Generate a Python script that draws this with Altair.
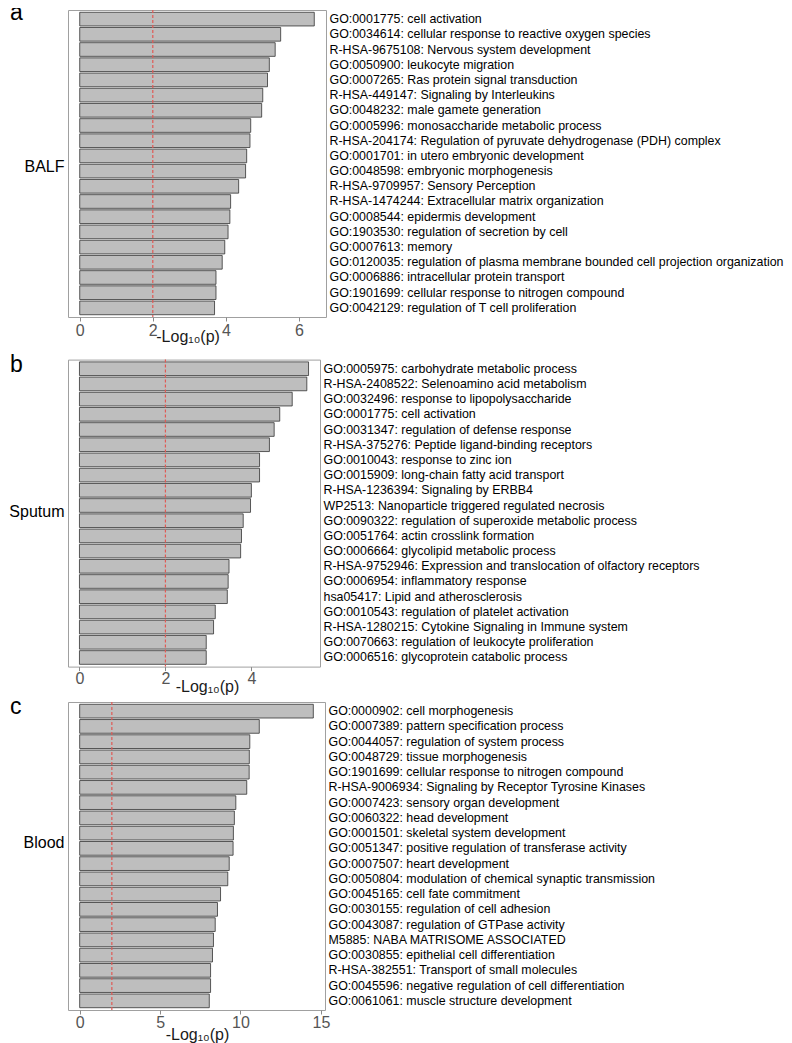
import altair as alt
import pandas as pd

# ---------------- data ----------------
balf_terms = [
    "GO:0001775: cell activation",
    "GO:0034614: cellular response to reactive oxygen species",
    "R-HSA-9675108: Nervous system development",
    "GO:0050900: leukocyte migration",
    "GO:0007265: Ras protein signal transduction",
    "R-HSA-449147: Signaling by Interleukins",
    "GO:0048232: male gamete generation",
    "GO:0005996: monosaccharide metabolic process",
    "R-HSA-204174: Regulation of pyruvate dehydrogenase (PDH) complex",
    "GO:0001701: in utero embryonic development",
    "GO:0048598: embryonic morphogenesis",
    "R-HSA-9709957: Sensory Perception",
    "R-HSA-1474244: Extracellular matrix organization",
    "GO:0008544: epidermis development",
    "GO:1903530: regulation of secretion by cell",
    "GO:0007613: memory",
    "GO:0120035: regulation of plasma membrane bounded cell projection organization",
    "GO:0006886: intracellular protein transport",
    "GO:1901699: cellular response to nitrogen compound",
    "GO:0042129: regulation of T cell proliferation",
]
balf_values = [6.42, 5.50, 5.35, 5.19, 5.14, 5.01, 4.98, 4.68, 4.66, 4.57,
               4.54, 4.35, 4.13, 4.11, 4.06, 3.97, 3.90, 3.73, 3.73, 3.69]

sputum_terms = [
    "GO:0005975: carbohydrate metabolic process",
    "R-HSA-2408522: Selenoamino acid metabolism",
    "GO:0032496: response to lipopolysaccharide",
    "GO:0001775: cell activation",
    "GO:0031347: regulation of defense response",
    "R-HSA-375276: Peptide ligand-binding receptors",
    "GO:0010043: response to zinc ion",
    "GO:0015909: long-chain fatty acid transport",
    "R-HSA-1236394: Signaling by ERBB4",
    "WP2513: Nanoparticle triggered regulated necrosis",
    "GO:0090322: regulation of superoxide metabolic process",
    "GO:0051764: actin crosslink formation",
    "GO:0006664: glycolipid metabolic process",
    "R-HSA-9752946: Expression and translocation of olfactory receptors",
    "GO:0006954: inflammatory response",
    "hsa05417: Lipid and atherosclerosis",
    "GO:0010543: regulation of platelet activation",
    "R-HSA-1280215: Cytokine Signaling in Immune system",
    "GO:0070663: regulation of leukocyte proliferation",
    "GO:0006516: glycoprotein catabolic process",
]
sputum_values = [5.33, 5.29, 4.95, 4.66, 4.53, 4.42, 4.19, 4.19, 4.00, 3.98,
                 3.81, 3.77, 3.75, 3.48, 3.46, 3.44, 3.16, 3.12, 2.95, 2.95]

blood_terms = [
    "GO:0000902: cell morphogenesis",
    "GO:0007389: pattern specification process",
    "GO:0044057: regulation of system process",
    "GO:0048729: tissue morphogenesis",
    "GO:1901699: cellular response to nitrogen compound",
    "R-HSA-9006934: Signaling by Receptor Tyrosine Kinases",
    "GO:0007423: sensory organ development",
    "GO:0060322: head development",
    "GO:0001501: skeletal system development",
    "GO:0051347: positive regulation of transferase activity",
    "GO:0007507: heart development",
    "GO:0050804: modulation of chemical synaptic transmission",
    "GO:0045165: cell fate commitment",
    "GO:0030155: regulation of cell adhesion",
    "GO:0043087: regulation of GTPase activity",
    "M5885: NABA MATRISOME ASSOCIATED",
    "GO:0030855: epithelial cell differentiation",
    "R-HSA-382551: Transport of small molecules",
    "GO:0045596: negative regulation of cell differentiation",
    "GO:0061061: muscle structure development",
]
blood_values = [14.53, 11.17, 10.58, 10.55, 10.54, 10.39, 9.71, 9.62, 9.56, 9.54,
                9.30, 9.21, 8.76, 8.57, 8.43, 8.32, 8.26, 8.14, 8.14, 8.06]

letters = ["a", "b", "c"]
sample_names = ["BALF", "Sputum", "Blood"]
x_ticks = [[0, 2, 4, 6], [0, 2, 4], [0, 5, 10, 15]]
threshold = 2

# ---------------- layout / style per panel ----------------
layout = [
    dict(width=258, height=307, title_x=119.6, title_y=24.7, label_pad=1.0, letter_y=10.0, name_y=156.5),
    dict(width=252, height=307, title_x=139.0, title_y=24.7, label_pad=-0.5, letter_y=12.4, name_y=152.0),
    dict(width=257, height=308, title_x=129.0, title_y=29.0, label_pad=0.5, letter_y=11.8, name_y=140.7),
]

FONT = "Liberation Sans"


def make_panel(letter, name, terms, values, ticks, lay):
    df = pd.DataFrame({"term": terms, "value": values})
    m = max(values)
    xscale = alt.Scale(domain=[-0.05 * m, 1.05 * m], nice=False, zero=False)
    bars = alt.Chart(df).mark_bar(
        fill="#BEBEBE", stroke="#333333", strokeWidth=0.8
    ).encode(
        x=alt.X(
            "value:Q",
            scale=xscale,
            axis=alt.Axis(
                values=ticks, title="-Log\u2081\u2080(p)", grid=False, domain=False,
                tickSize=4, tickColor="#8a8a8a", tickWidth=1,
                labelColor="#555555", labelFontSize=16, labelFont=FONT,
                labelPadding=lay["label_pad"],
                titleFont=FONT, titleFontSize=16, titleFontWeight="normal",
                titleColor="#1a1a1a", titleX=lay["title_x"], titleY=lay["title_y"],
                titleAlign="center", titleBaseline="alphabetic",
            ),
        ),
        y=alt.Y(
            "term:N",
            sort=None,
            scale=alt.Scale(paddingInner=0.1, paddingOuter=0.15),
            axis=alt.Axis(
                orient="right", title=None, ticks=False, domain=False,
                labelPadding=3, labelLimit=700, labelFontSize=12.4,
                labelFont=FONT, labelColor="black",
            ),
        ),
    )
    rule = alt.Chart(pd.DataFrame({"value": [threshold]})).mark_rule(
        color="#E05A55", strokeDash=[3, 2], strokeWidth=1.2
    ).encode(x="value:Q")
    letter_txt = alt.Chart(pd.DataFrame({"t": [letter]})).mark_text(
        align="left", baseline="alphabetic", fontSize=23, font=FONT, color="black"
    ).encode(text="t:N", x=alt.value(-58), y=alt.value(lay["letter_y"]))
    name_txt = alt.Chart(pd.DataFrame({"t": [name]})).mark_text(
        align="right", baseline="middle", fontSize=16, font=FONT, color="black"
    ).encode(text="t:N", x=alt.value(-3.5), y=alt.value(lay["name_y"]))
    return alt.layer(bars, rule, letter_txt, name_txt).properties(
        width=lay["width"], height=lay["height"]
    )


all_terms = [balf_terms, sputum_terms, blood_terms]
all_values = [balf_values, sputum_values, blood_values]
panels = [
    make_panel(letters[i], sample_names[i], all_terms[i], all_values[i], x_ticks[i], layout[i])
    for i in range(3)
]

chart = alt.vconcat(
    alt.vconcat(panels[0], panels[1], spacing=6.6),
    panels[2],
    spacing=0,
).properties(
    padding={"left": 0, "top": -7, "right": 0, "bottom": 0}
).configure(font=FONT).configure_view(stroke="#A0A0A0", strokeWidth=1)

chart.save("out.html", embed_options={"renderer": "svg", "actions": False})
